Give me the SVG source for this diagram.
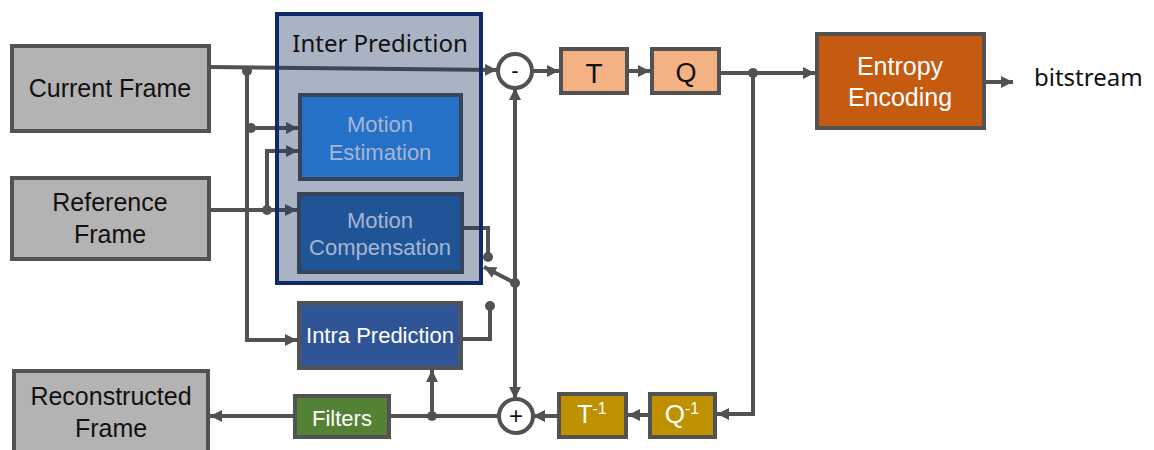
<svg xmlns="http://www.w3.org/2000/svg" width="1154" height="450" viewBox="0 0 1154 450">
  <defs>
    <marker id="arrow" markerUnits="userSpaceOnUse" markerWidth="12" markerHeight="12" refX="12" refY="6" orient="auto">
      <path d="M0,0 L12,6 L0,12 z" fill="#525252"/>
    </marker>
    <style>
      .box { stroke: #525252; stroke-width: 4; }
      .frame { fill: #b3b3b3; }
      .lbl { font-family: "Liberation Sans", Arial, sans-serif; font-size: 25px; text-anchor: middle; fill: #111; }
      .wlbl { font-family: "Liberation Sans", Arial, sans-serif; font-size: 22px; text-anchor: middle; fill: #ffffff; }
      .mlbl { font-family: "Liberation Sans", Arial, sans-serif; font-size: 22px; text-anchor: middle; fill: #a7b5d2; }
      .wire { fill: none; stroke: #525252; stroke-width: 4; }
      .arr { marker-end: url(#arrow); }
      .dot { fill: #525252; }
      .sum { fill: #ffffff; stroke: #525252; stroke-width: 4; }
    </style>
  </defs>
  <rect width="1154" height="450" fill="#ffffff"/>

  <!-- signal paths -->
  <g id="connectors">
    <path class="wire arr" d="M211,67 L497,70"/>
    <path class="wire arr" d="M247,69 V340 H297"/>
    <path class="wire arr" d="M247,128 H298"/>
    <path class="wire arr" d="M211,210 H297"/>
    <path class="wire arr" d="M267,210 V151 H298"/>
    <path class="wire" d="M462,228 H488 V257"/>
    <path class="wire" d="M461,339 H490 V306"/>
    <path class="wire arr" d="M515,283 L484,267"/>
    <path class="wire arr" d="M515,283 V88"/>
    <path class="wire arr" d="M515,283 V399"/>
    <path class="wire arr" d="M532,71 H559"/>
    <path class="wire arr" d="M629,71 H650"/>
    <path class="wire arr" d="M721,73 H815"/>
    <path class="wire arr" d="M753,73 V414 H717"/>
    <path class="wire arr" d="M648,415 H628"/>
    <path class="wire arr" d="M557,416 H533"/>
    <path class="wire" d="M498,416 H391"/>
    <path class="wire arr" d="M432,416 V370"/>
    <path class="wire arr" d="M293,416 H210"/>
    <path class="wire arr" d="M986,82 H1013"/>
    <circle class="dot" cx="247" cy="71" r="5"/>
    <circle class="dot" cx="251" cy="128" r="5"/>
    <circle class="dot" cx="267" cy="210" r="5"/>
    <circle class="dot" cx="488" cy="257" r="5"/>
    <circle class="dot" cx="490" cy="306" r="5"/>
    <circle class="dot" cx="515" cy="283" r="5"/>
    <circle class="dot" cx="753" cy="73" r="5"/>
    <circle class="dot" cx="432" cy="416" r="5"/>
  </g>

  <g id="inter-prediction">
    <rect x="277" y="14" width="204" height="269" fill="#203864" fill-opacity="0.38" stroke="#0f2a66" stroke-width="4"/>
    <text x="380" y="52" font-family="'Noto Sans', sans-serif" font-size="24" text-anchor="middle" fill="#111">Inter Prediction</text>
  </g>

  <g id="motion-estimation">
    <rect x="300" y="95" width="161" height="84" fill="#2671c8" stroke="#37425b" stroke-width="4"/>
    <text class="mlbl" x="380" y="132">Motion</text>
    <text class="mlbl" x="380" y="160">Estimation</text>
  </g>

  <g id="motion-compensation">
    <rect x="299" y="194" width="163" height="78" fill="#1f5597" stroke="#37425b" stroke-width="4"/>
    <text class="mlbl" x="380" y="228">Motion</text>
    <text class="mlbl" x="380" y="255">Compensation</text>
  </g>

  <g id="intra-prediction">
    <rect class="box" x="299" y="303" width="162" height="65" fill="#2f5597"/>
    <text class="wlbl" x="380" y="343">Intra Prediction</text>
  </g>

  <g id="current-frame">
    <rect class="box frame" x="12" y="46" width="197" height="85"/>
    <text class="lbl" x="110" y="97">Current Frame</text>
  </g>

  <g id="reference-frame">
    <rect class="box frame" x="12" y="178" width="197" height="81"/>
    <text class="lbl" x="110" y="211">Reference</text>
    <text class="lbl" x="110" y="243">Frame</text>
  </g>

  <g id="reconstructed-frame">
    <rect class="box frame" x="14" y="371" width="194" height="100"/>
    <text class="lbl" x="111" y="405">Reconstructed</text>
    <text class="lbl" x="111" y="437">Frame</text>
  </g>

  <g id="filters">
    <rect class="box" x="295" y="396" width="94" height="41" fill="#548235"/>
    <text class="wlbl" x="342" y="426">Filters</text>
  </g>

  <g id="subtract">
    <circle class="sum" cx="515" cy="71" r="17"/>
    <text x="515" y="78" font-family="'Liberation Sans', Arial, sans-serif" font-size="22" text-anchor="middle" fill="#111">-</text>
  </g>

  <g id="add">
    <circle class="sum" cx="516" cy="416" r="17"/>
    <text x="516" y="424" font-family="'Liberation Sans', Arial, sans-serif" font-size="24" text-anchor="middle" fill="#111">+</text>
  </g>

  <g id="transform">
    <rect class="box" x="561" y="49" width="66" height="44" fill="#f4b183"/>
    <text x="594" y="83" font-family="'Liberation Sans', Arial, sans-serif" font-size="28" text-anchor="middle" fill="#111">T</text>
  </g>

  <g id="quantize">
    <rect class="box" x="652" y="49" width="67" height="44" fill="#f4b183"/>
    <text x="686" y="82" font-family="'Liberation Sans', Arial, sans-serif" font-size="27" text-anchor="middle" fill="#111">Q</text>
  </g>

  <g id="inverse-transform">
    <rect class="box" x="559" y="394" width="67" height="43" fill="#bf9000"/>
    <text x="592" y="423" font-family="'Liberation Sans', Arial, sans-serif" font-size="25" text-anchor="middle" fill="#ffffff">T<tspan dy="-9" font-size="16">-1</tspan></text>
  </g>

  <g id="inverse-quantize">
    <rect class="box" x="650" y="394" width="65" height="43" fill="#bf9000"/>
    <text x="682" y="423" font-family="'Liberation Sans', Arial, sans-serif" font-size="26" text-anchor="middle" fill="#ffffff">Q<tspan dy="-9" font-size="16">-1</tspan></text>
  </g>

  <g id="entropy-encoding">
    <rect class="box" x="817" y="34" width="167" height="94" fill="#c55a11"/>
    <text x="900" y="75" font-family="'Liberation Sans', Arial, sans-serif" font-size="25" text-anchor="middle" fill="#ffffff">Entropy</text>
    <text x="900" y="106" font-family="'Liberation Sans', Arial, sans-serif" font-size="25" text-anchor="middle" fill="#ffffff">Encoding</text>
  </g>

  <g id="bitstream">
    <text x="1034" y="86" font-family="'Noto Sans', sans-serif" font-size="24" fill="#111">bitstream</text>
  </g>
</svg>
